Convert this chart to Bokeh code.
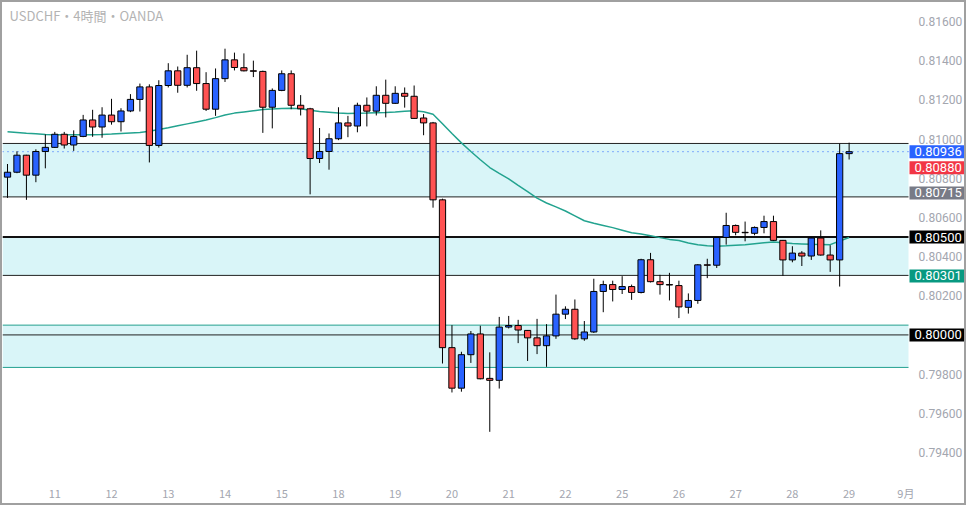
from bokeh.plotting import figure
from bokeh.models import ColumnDataSource, Range1d, FixedTicker, Label
from bokeh.core.properties import value
from bokeh.embed import file_html
from bokeh.resources import INLINE

# ---------------- data ----------------
opens = [0.80806, 0.80831, 0.80918, 0.80816, 0.80937, 0.80958, 0.81025, 0.80970, 0.81014, 0.81098,
         0.81062, 0.81123, 0.81089, 0.81144, 0.81203, 0.81267, 0.80968, 0.81274, 0.81349, 0.81275,
         0.81365, 0.81284, 0.81153, 0.81309, 0.81405, 0.81365, 0.81349, 0.81346, 0.81163, 0.81249,
         0.81334, 0.81173, 0.81155, 0.80901, 0.80937, 0.81002, 0.81083, 0.81067, 0.81173, 0.81143,
         0.81224, 0.81183, 0.81234, 0.81219, 0.81108, 0.81083, 0.80690, 0.79935, 0.79728, 0.79899,
         0.80005, 0.79778, 0.79768, 0.80040, 0.80048, 0.80023, 0.79985, 0.79945, 0.79995, 0.80106,
         0.80131, 0.79980, 0.80015, 0.80222, 0.80257, 0.80232, 0.80247, 0.80217, 0.80384, 0.80272,
         0.80257, 0.80252, 0.80141, 0.80176, 0.80358, 0.80356, 0.80498, 0.80559, 0.80524, 0.80519,
         0.80549, 0.80579, 0.80483, 0.80383, 0.80418, 0.80403, 0.80495, 0.80408, 0.80383, 0.80926]
highs = [0.80873, 0.80938, 0.80920, 0.80948, 0.81024, 0.81037, 0.81037, 0.81045, 0.81124, 0.81150,
         0.81163, 0.81206, 0.81158, 0.81230, 0.81284, 0.81280, 0.81301, 0.81388, 0.81371, 0.81431,
         0.81452, 0.81342, 0.81361, 0.81462, 0.81442, 0.81438, 0.81401, 0.81350, 0.81259, 0.81351,
         0.81351, 0.81225, 0.81160, 0.81057, 0.81029, 0.81163, 0.81119, 0.81186, 0.81213, 0.81270,
         0.81304, 0.81270, 0.81264, 0.81274, 0.81128, 0.81088, 0.80696, 0.80050, 0.79914, 0.80020,
         0.80047, 0.79911, 0.80092, 0.80097, 0.80077, 0.80025, 0.80082, 0.80055, 0.80206, 0.80146,
         0.80181, 0.80071, 0.80287, 0.80277, 0.80277, 0.80300, 0.80257, 0.80389, 0.80419, 0.80307,
         0.80317, 0.80277, 0.80212, 0.80362, 0.80389, 0.80500, 0.80624, 0.80564, 0.80579, 0.80554,
         0.80609, 0.80609, 0.80485, 0.80453, 0.80428, 0.80498, 0.80534, 0.80458, 0.80977, 0.80982]
lows = [0.80700, 0.80826, 0.80690, 0.80780, 0.80851, 0.80955, 0.80952, 0.80940, 0.81010, 0.81012,
        0.81007, 0.81074, 0.81039, 0.81138, 0.81141, 0.80881, 0.80957, 0.81264, 0.81237, 0.81264,
        0.81247, 0.81144, 0.81119, 0.81292, 0.81351, 0.81346, 0.81317, 0.81032, 0.81055, 0.81245,
        0.81153, 0.81121, 0.80718, 0.80878, 0.80844, 0.80995, 0.81010, 0.81035, 0.81065, 0.81121,
        0.81111, 0.81180, 0.81161, 0.81103, 0.81020, 0.80650, 0.79854, 0.79706, 0.79710, 0.79857,
        0.79773, 0.79505, 0.79726, 0.80033, 0.79958, 0.79867, 0.79902, 0.79837, 0.79980, 0.80081,
        0.79975, 0.79970, 0.80010, 0.80116, 0.80171, 0.80209, 0.80179, 0.80212, 0.80268, 0.80206,
        0.80176, 0.80086, 0.80109, 0.80159, 0.80290, 0.80342, 0.80461, 0.80509, 0.80478, 0.80509,
        0.80519, 0.80480, 0.80302, 0.80371, 0.80352, 0.80383, 0.80405, 0.80322, 0.80247, 0.80896]
closes = [0.80831, 0.80918, 0.80816, 0.80937, 0.80958, 0.81025, 0.80970, 0.81014, 0.81098, 0.81062,
          0.81123, 0.81089, 0.81144, 0.81203, 0.81267, 0.80968, 0.81274, 0.81349, 0.81275, 0.81365,
          0.81284, 0.81153, 0.81309, 0.81405, 0.81366, 0.81349, 0.81347, 0.81163, 0.81249, 0.81334,
          0.81173, 0.81155, 0.80901, 0.80937, 0.81002, 0.81083, 0.81067, 0.81173, 0.81143, 0.81224,
          0.81183, 0.81234, 0.81219, 0.81106, 0.81083, 0.80690, 0.79935, 0.79728, 0.79899, 0.80005,
          0.79776, 0.79768, 0.80040, 0.80048, 0.80025, 0.79985, 0.79945, 0.79995, 0.80106, 0.80131,
          0.79980, 0.80015, 0.80222, 0.80257, 0.80232, 0.80247, 0.80217, 0.80384, 0.80272, 0.80257,
          0.80255, 0.80143, 0.80176, 0.80358, 0.80356, 0.80498, 0.80559, 0.80524, 0.80522, 0.80549,
          0.80579, 0.80483, 0.80383, 0.80418, 0.80403, 0.80495, 0.80408, 0.80383, 0.80926, 0.80936]
ma = [0.81038, 0.81034, 0.81030, 0.81027, 0.81024, 0.81023, 0.81022, 0.81022, 0.81023, 0.81023,
      0.81024, 0.81026, 0.81029, 0.81032, 0.81034, 0.81040, 0.81049, 0.81058, 0.81068, 0.81078,
      0.81088, 0.81098, 0.81110, 0.81123, 0.81133, 0.81139, 0.81145, 0.81151, 0.81154, 0.81156,
      0.81158, 0.81155, 0.81148, 0.81141, 0.81138, 0.81134, 0.81131, 0.81132, 0.81133, 0.81135,
      0.81136, 0.81139, 0.81143, 0.81145, 0.81140, 0.81127, 0.81079, 0.81029, 0.80981, 0.80937,
      0.80895, 0.80855, 0.80825, 0.80797, 0.80764, 0.80732, 0.80699, 0.80674, 0.80654, 0.80633,
      0.80608, 0.80583, 0.80570, 0.80559, 0.80548, 0.80535, 0.80522, 0.80515, 0.80507, 0.80497,
      0.80488, 0.80482, 0.80470, 0.80461, 0.80456, 0.80453, 0.80455, 0.80458, 0.80461, 0.80466,
      0.80471, 0.80474, 0.80471, 0.80467, 0.80465, 0.80463, 0.80462, 0.80461, 0.80480, 0.80498]

day_labels = ["11", "12", "13", "14", "15", "18", "19", "20", "21", "22",
              "25", "26", "27", "28", "29", "9月"]
candles_per_day = 6
first_day_index = 5
price_ticks = [0.794, 0.796, 0.798, 0.800, 0.802, 0.804, 0.806, 0.808, 0.810, 0.812, 0.814, 0.816]

zone_bottoms = [0.80705, 0.80304, 0.79834]
zone_tops = [0.80978, 0.80500, 0.80050]
black_levels = [0.80978, 0.80705, 0.80304, 0.80000]
key_level = 0.80500
teal_levels = [0.80050, 0.79834]
last_price = 0.80936

tag_texts = ["0.80936", "0.80880", "0.80715", "0.80500", "0.80301", "0.80000"]
tag_prices = [0.80936, 0.80936, 0.80715, 0.80500, 0.80301, 0.80000]
tag_shift_px = [0, -16, 2, 0, 0, 0]
tag_colors = ["#2962ff", "#f23645", "#787b86", "#000000", "#089981", "#000000"]
title_text = "USDCHF・4時間・OANDA"

# ---------------- layout constants ----------------
X_START, X_CHART_END = -0.53, 95.28   # data extent of the candle area
CHART_W = 906                          # px of the candle area
FRAME_W = 962                          # candle area + price scale
UPP = (X_CHART_END - X_START) / CHART_W
X_END = X_START + FRAME_W * UPP

# ---------------- build ----------------
xs = list(range(len(opens)))
up = [c >= o for o, c in zip(opens, closes)]
src = ColumnDataSource(dict(
    x=xs, o=opens, h=highs, l=lows, c=closes,
    top=[max(o, c) for o, c in zip(opens, closes)],
    bottom=[min(o, c) for o, c in zip(opens, closes)],
    color=["#2962ff" if u else "#ff5252" for u in up],
))

p = figure(frame_width=FRAME_W, frame_height=472, min_border_left=0, min_border_top=0,
           min_border_right=0, min_border_bottom=18,
           x_range=Range1d(X_START, X_END), y_range=Range1d(0.79287, 0.81698),
           y_axis_location=None, output_backend="svg", toolbar_location=None,
           background_fill_color="white", border_fill_color="white")
p.outline_line_color = None
p.xgrid.visible = False
p.ygrid.visible = False
p.styles = {"border": "2px solid #a0a0a0"}

font = "Roboto"
ax_col = "#a3a6af"

day_pos = [first_day_index + candles_per_day * k for k in range(len(day_labels))]
p.xaxis.ticker = FixedTicker(ticks=day_pos)
p.xaxis.major_label_overrides = {pos: lab for pos, lab in zip(day_pos, day_labels)}
p.xaxis.axis_line_color = None
p.xaxis.major_tick_line_color = None
p.xaxis.minor_tick_line_color = None
p.xaxis.major_label_text_color = ax_col
p.xaxis.major_label_text_font = "Noto Sans CJK JP"
p.xaxis.major_label_text_font_size = "11px"
p.xaxis.major_label_standoff = 4

# zones and levels (limited to the candle area)
n_z = len(zone_tops)
p.quad(left=[X_START] * n_z, right=[X_CHART_END] * n_z, bottom=zone_bottoms, top=zone_tops,
       fill_color="#d9f5f8", line_color=None)
n_b = len(black_levels)
p.segment(x0=[X_START] * n_b, x1=[X_CHART_END] * n_b, y0=black_levels, y1=black_levels,
          line_color="#222222", line_width=1)
p.segment(x0=[X_START], x1=[X_CHART_END], y0=[key_level], y1=[key_level],
          line_color="#111111", line_width=2)
n_t = len(teal_levels)
p.segment(x0=[X_START] * n_t, x1=[X_CHART_END] * n_t, y0=teal_levels, y1=teal_levels,
          line_color="#22a08f", line_width=1)
p.segment(x0=[X_START], x1=[X_CHART_END], y0=[last_price], y1=[last_price],
          line_color="#2962ff", line_width=1, line_dash="1 4")

# moving average and candles
p.line(xs, ma, line_color="#23a38f", line_width=1.5)
p.segment(x0="x", y0="h", x1="x", y1="l", source=src, line_color="#000000", line_width=1)
p.vbar(x="x", width=0.66, top="top", bottom="bottom", source=src,
       fill_color="color", line_color="#000000", line_width=1)

# price scale tick labels
p.text(x=[X_CHART_END + 10 * UPP] * len(price_ticks), y=price_ticks,
       text=["%.5f" % t for t in price_ticks], text_color=ax_col,
       text_font=value(font), text_font_size="12px",
       text_baseline="middle", text_align="left")

p.add_layout(Label(x=X_START + 7 * UPP, y=0.81633, text=title_text, text_color="#b3b3b3",
                   text_font="Noto Sans CJK JP", text_font_size="13px",
                   text_baseline="middle", text_align="left"))

try:
    pad = dict(left=5, right=5, top=2, bottom=2)
    Label(x=0, y=0, text="t", padding=pad)
except Exception:
    pad = 3

for txt, pr, sh, col in zip(tag_texts, tag_prices, tag_shift_px, tag_colors):
    p.add_layout(Label(x=X_CHART_END + 1 * UPP, y=pr, y_offset=sh, text=txt,
                       text_color="white", text_font=font, text_font_size="13px",
                       text_baseline="middle", text_align="left",
                       background_fill_color=col, background_fill_alpha=1.0,
                       padding=pad, level="overlay"))

open("out.html", "w").write(file_html(p, INLINE))
